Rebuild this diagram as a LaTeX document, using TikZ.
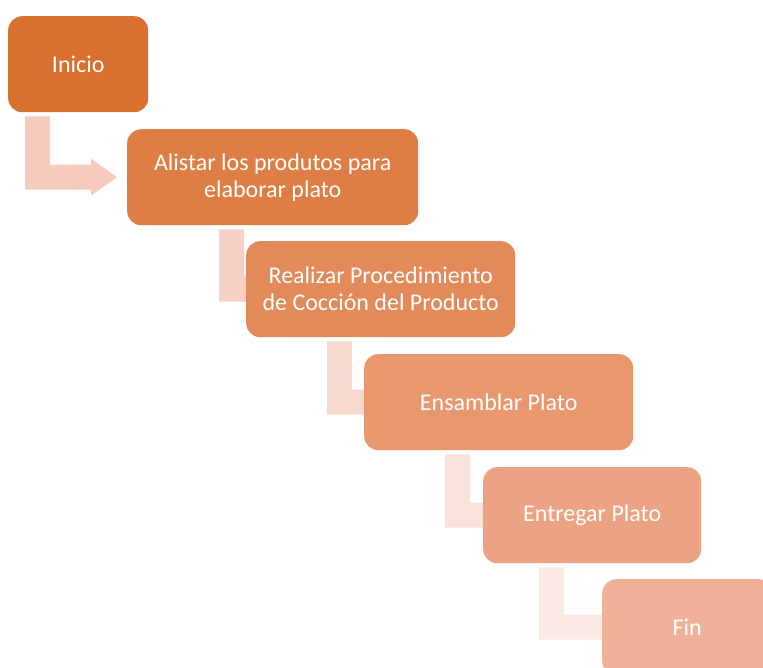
\documentclass[tikz,border=0pt]{standalone}
\usepackage{fontspec}
\setmainfont{Carlito}
\usetikzlibrary{calc,backgrounds}
\definecolor{bA}{HTML}{D8702E}
\definecolor{bB}{HTML}{DE7D44}
\definecolor{bC}{HTML}{E38A5B}
\definecolor{bD}{HTML}{E8976F}
\definecolor{bE}{HTML}{ECA383}
\definecolor{bF}{HTML}{F1B199}
\definecolor{aA}{HTML}{F5CBBD}
\definecolor{aB}{HTML}{F6D0C4}
\definecolor{aC}{HTML}{F7D8CD}
\definecolor{aD}{HTML}{F9E2D9}
\definecolor{aE}{HTML}{FBEAE4}
\tikzset{
  box/.style={rounded corners=14pt, fill=#1, text=white, align=center, inner sep=0pt,
    anchor=north west, font=\fontsize{24}{27}\selectfont},
}
% #1 from node, #2 to node, #3 bar left x, #4 tip offset from target west, #5 colour
\newcommand\bendarrow[5]{%
  \fill[#5] let \p1=(#1.south), \p2=(#2.west) in
    (#3,\y1-4pt) -- (#3+25pt,\y1-4pt) -- (#3+25pt,\y2+12.5pt)
    -- (\x2+#4-26pt,\y2+12.5pt) -- (\x2+#4-26pt,\y2+18.5pt) -- (\x2+#4,\y2)
    -- (\x2+#4-26pt,\y2-18.5pt) -- (\x2+#4-26pt,\y2-12.5pt)
    -- (#3,\y2-12.5pt) -- cycle;}
\begin{document}
\begin{tikzpicture}[x=1pt,y=-1pt]
\useasboundingbox (0,0) rectangle (763,668);
\clip (0,0) rectangle (763,668);
\node[box=bA, minimum width=140pt, minimum height=96pt] (n1) at (8,16) {Inicio};
\node[box=bB, minimum width=291pt, minimum height=96pt] (n2) at (127,129) {Alistar los produtos para\\elaborar plato};
\node[box=bC, minimum width=269pt, minimum height=96pt] (n3) at (246,241) {Realizar Procedimiento\\de Cocción del Producto};
\node[box=bD, minimum width=269pt, minimum height=96pt] (n4) at (364,354) {Ensamblar Plato};
\node[box=bE, minimum width=218pt, minimum height=96pt] (n5) at (483,467) {Entregar Plato};
\node[box=bF, minimum width=170pt, minimum height=96pt] (n6) at (602,579) {Fin};
\begin{pgfonlayer}{background}
\bendarrow{n1}{n2}{25pt}{-10pt}{aA}
\bendarrow{n2}{n3}{219pt}{30pt}{aB}
\bendarrow{n3}{n4}{327pt}{30pt}{aC}
\bendarrow{n4}{n5}{445pt}{30pt}{aD}
\bendarrow{n5}{n6}{539pt}{30pt}{aE}
\end{pgfonlayer}
\end{tikzpicture}
\end{document}
